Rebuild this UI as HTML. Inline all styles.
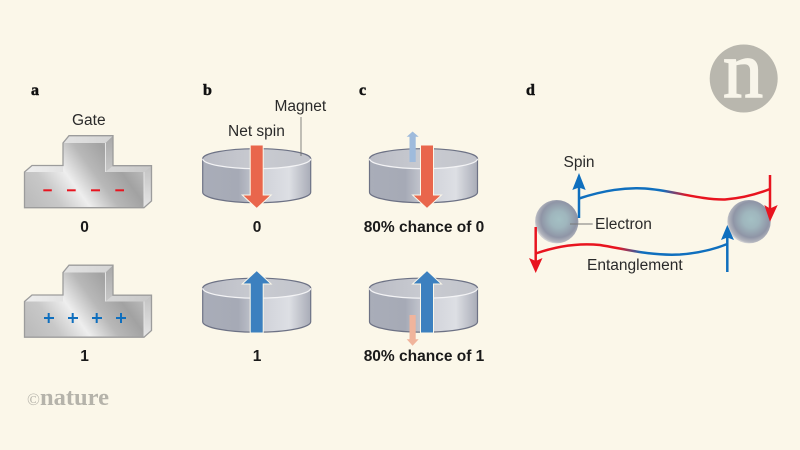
<!DOCTYPE html>
<html><head><meta charset="utf-8"><style>
html,body{margin:0;padding:0;background:#fbf7e9}
svg{display:block}
text{font-family:"Liberation Sans",sans-serif;fill:#222;font-size:15.5px}
.l{font-weight:bold;font-size:16px;fill:#111;stroke:#111;stroke-width:.5px;font-family:"Liberation Serif",serif}
.v{font-weight:bold;font-size:15.5px;fill:#1a1a1a;text-anchor:middle}
</style></head><body>
<svg width="800" height="450" viewBox="0 0 800 450" xmlns="http://www.w3.org/2000/svg">
<defs>
<linearGradient id="gf" gradientUnits="userSpaceOnUse" x1="40" y1="215" x2="130" y2="150">
<stop offset="0" stop-color="#bdbdbd"/><stop offset=".2" stop-color="#c8c8c8"/><stop offset=".41" stop-color="#eeeeee"/><stop offset=".62" stop-color="#b8b8b8"/><stop offset=".82" stop-color="#a2a2a2"/><stop offset="1" stop-color="#bbbbbb"/></linearGradient>
<linearGradient id="gt" x1="0" y1="0" x2="1" y2="0"><stop offset="0" stop-color="#eeeeee"/><stop offset="1" stop-color="#c8c8c8"/></linearGradient>
<linearGradient id="gs" x1="0" y1="0" x2="0" y2="1"><stop offset="0" stop-color="#a8a8a8"/><stop offset="1" stop-color="#e6e6e6"/></linearGradient>
<linearGradient id="ds" x1="0" y1="0" x2="1" y2="0"><stop offset="0" stop-color="#a9adb8"/><stop offset=".33" stop-color="#a6aab6"/><stop offset=".55" stop-color="#d0d2d9"/><stop offset=".8" stop-color="#dddfe4"/><stop offset="1" stop-color="#a9acb7"/></linearGradient>
<linearGradient id="dt" x1="0" y1="0" x2="1" y2="0"><stop offset="0" stop-color="#babcc5"/><stop offset=".5" stop-color="#c9cbd1"/><stop offset="1" stop-color="#c2c4cb"/></linearGradient>
<radialGradient id="sp" cx=".55" cy=".45" r=".55"><stop offset="0" stop-color="#a4c0c4"/><stop offset=".35" stop-color="#9fb6bd"/><stop offset=".75" stop-color="#8f95a6"/><stop offset=".95" stop-color="#b4b6be"/><stop offset="1" stop-color="#d0d0d2"/></radialGradient>
<linearGradient id="c1" gradientUnits="userSpaceOnUse" x1="662" y1="0" x2="688" y2="0"><stop offset="0" stop-color="#0f6fbe"/><stop offset="1" stop-color="#e8141f"/></linearGradient>
<linearGradient id="c2" gradientUnits="userSpaceOnUse" x1="618" y1="0" x2="642" y2="0"><stop offset="0" stop-color="#e8141f"/><stop offset="1" stop-color="#0f6fbe"/></linearGradient>
<g id="gate">
<path d="M24.5 172 L32 165.5 H63 V143 L69 135.7 H113 V165.7 H151.5 V201 L144 207.7 H24.500Z" fill="#ddd"/>
<path d="M24.5 172 L32 165.5 H63 V172Z M63 143 L69 135.7 H113 L105.5 143Z M105.5 172 L113 165.7 H151.5 L144 172Z" fill="url(#gt)"/>
<path d="M105.5 143 L113 135.7 V165.7 L105.5 172Z M144 172 L151.5 165.7 V201 L144 207.7Z" fill="url(#gs)"/>
<path d="M24.5 172 H63 V143 H105.5 V172 H144 V207.7 H24.5Z" fill="url(#gf)"/>
<path d="M105.5 143 V172 M144 172 V207.7" stroke="#e4e4e4" stroke-width="1" fill="none"/>
<path d="M24.5 172 L32 165.5 H63 V143 L69 135.7 H113 V165.700 H151.5 V201 L144 207.7 H24.5Z" fill="none" stroke="#9c9c9c" stroke-width="1.3"/>
</g>
<g id="disk">
<path d="M0 0 V33.5 A54 10.5 0 0 0 108 33.5 V0Z" fill="url(#ds)" stroke="#6d7285" stroke-width="1.2"/>
<ellipse cx="54" cy="0" rx="54" ry="10" fill="url(#dt)"/>
<path d="M0 0 A54 10 0 0 1 108 0" fill="none" stroke="#6d7285" stroke-width="1.2"/>
<path d="M0 0 A54 10 0 0 0 108 0" fill="none" stroke="#f3f3f5" stroke-width="1.2"/>
</g>
<path id="down" d="M-6.500 0 H6.500 V50 H14.500 L0 63.500 L-14.500 50 H-6.500Z"/>
<path id="up" d="M-6.500 0 H6.500 V-49 H14.500 L0 -62.500 L-14.500 -49 H-6.500Z"/>
</defs>
<rect width="800" height="450" fill="#fbf7e9"/>

<circle cx="743.7" cy="78.5" r="34" fill="#b9b7ae"/>
<text x="743" y="97" text-anchor="middle" style="font-family:'Liberation Serif',serif;font-size:80px;fill:#f8f5ea;stroke:#f8f5ea;stroke-width:1.5px">n</text>

<text class="l" x="31" y="95">a</text>
<text class="l" x="203" y="95">b</text>
<text class="l" x="359" y="95">c</text>
<text class="l" x="526" y="95">d</text>

<text x="72" y="125" style="fill:#2a2a2a">Gate</text>
<use href="#gate"/>
<g fill="#e8141f"><rect x="43.3" y="189.3" width="8.5" height="2"/><rect x="67" y="189.3" width="8.7" height="2"/><rect x="91" y="189.3" width="9" height="2"/><rect x="115.3" y="189.3" width="8.7" height="2"/></g>
<text class="v" x="84.5" y="232">0</text>

<use href="#gate" y="129.5"/>
<g stroke="#0f6fbe" stroke-width="2" fill="none"><path d="M44 318H54M48.700 313V323M68 318H78M72.700 313V323M92 318H102M96.700 313V323M116 318H126M121 313V323"/></g>
<text class="v" x="84.500" y="361">1</text>

<text x="274.500" y="111" style="fill:#2a2a2a">Magnet</text>
<text x="228" y="136" style="fill:#2a2a2a">Net spin</text>
<use href="#disk" x="202.700" y="158.700"/>
<path d="M301 117V156" stroke="#666" stroke-width=".8"/>
<use href="#down" x="256.700" y="145" fill="#e9664c" stroke="#fbf7e9" stroke-width="1"/>
<text class="v" x="257" y="232">0</text>

<use href="#disk" x="202.700" y="288.200"/>
<use href="#up" x="256.700" y="333" fill="#3c80bf" stroke="#fbf7e9" stroke-width="1"/>
<text class="v" x="257" y="361">1</text>

<use href="#disk" x="369.500" y="158.700"/>
<path d="M409.500 162V136.700H406.700L412.600 131.500L418.700 136.700H415.700V162Z" fill="#9fbbdc"/>
<use href="#down" x="427" y="145" fill="#e9664c" stroke="#fbf7e9" stroke-width="1"/>
<text class="v" x="424" y="232">80% chance of 0</text>

<use href="#disk" x="369.500" y="288.200"/>
<use href="#up" x="427" y="333" fill="#3c80bf" stroke="#fbf7e9" stroke-width="1"/>
<path d="M409.500 315H415.700V339.300H418.700L412.600 345.700L406.700 339.300H409.500Z" fill="#f0b49c"/>
<text class="v" x="424" y="361">80% chance of 1</text>

<circle cx="556.700" cy="221.700" r="21.700" fill="url(#sp)"/>
<circle cx="749" cy="221.700" r="21.700" fill="url(#sp)"/>
<path d="M570 224H592.700" stroke="#777" stroke-width="1"/>

<path d="M579 218V185" stroke="#0f6fbe" stroke-width="2.500" fill="none"/>
<path d="M579 173L585.700 190L579 187.500L572.300 190Z" fill="#0f6fbe"/>
<path d="M579 198.500C605 190 625 187.500 645 188.500C670 190 700 200 725 199.500C745 198 760 193 770 189" fill="none" stroke="url(#c1)" stroke-width="2.500"/>
<path d="M770 175V210" stroke="#e8141f" stroke-width="2.500" fill="none"/>
<path d="M770 221.700L777.700 205L770 208.500L764.300 205Z" fill="#e8141f"/>

<path d="M535.700 227V262" stroke="#e8141f" stroke-width="2.500" fill="none"/>
<path d="M535.700 273L542.500 258L535.700 261L529 258Z" fill="#e8141f"/>
<path d="M535.700 253.500C560 245 580 243 600 245C625 249 650 256 680 254.500C700 253 715 249 727.300 244" fill="none" stroke="url(#c2)" stroke-width="2.500"/>
<path d="M727.300 272V236" stroke="#0f6fbe" stroke-width="2.500" fill="none"/>
<path d="M727.300 225L734 240L727.300 237.500L721 240Z" fill="#0f6fbe"/>

<text x="563.500" y="167" style="fill:#2a2a2a">Spin</text>
<text x="595" y="229" style="fill:#2a2a2a">Electron</text>
<text x="587" y="270" style="fill:#2a2a2a">Entanglement</text>

<text x="27" y="405" style="font-family:'Liberation Serif',serif;font-size:17px;fill:#b5b3aa">©</text>
<text x="40" y="405" style="font-family:'Liberation Serif',serif;font-size:24px;font-weight:bold;fill:#b5b3aa" textLength="69" lengthAdjust="spacingAndGlyphs">nature</text>
</svg>
</body></html>
